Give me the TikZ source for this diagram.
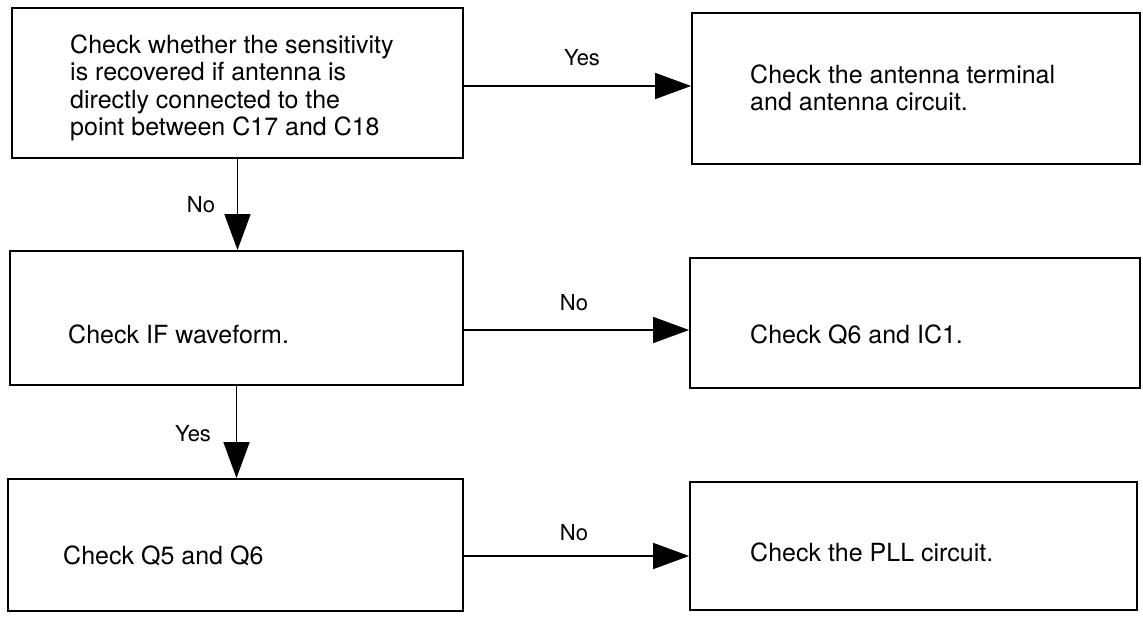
\documentclass[tikz,border=0pt]{standalone}
\usepackage{fontspec}
\setmainfont{TeX Gyre Heros}
\usetikzlibrary{arrows.meta,calc}
\begin{document}
\begin{tikzpicture}[x=1pt,y=-1pt,
  box/.style={draw=black,line width=1.8pt,rectangle,inner sep=0pt},
  txt/.style={anchor=west,align=left,inner sep=0pt,font=\fontsize{25}{27.5}\selectfont},
  lbl/.style={inner sep=0pt,font=\fontsize{22}{24}\selectfont},
  arr/.style={line width=1.6pt,-{Triangle[length=36pt,width=26pt]}}]
\useasboundingbox[fill=white] (0,0) rectangle (1143,617);
% boxes
\node[box,minimum width=451pt,minimum height=150pt] (b1) at (237.5,83) {};
\node[box,minimum width=448pt,minimum height=151pt] (b2) at (916,88.5) {};
\node[box,minimum width=453pt,minimum height=134pt] (b3) at (236.5,318) {};
\node[box,minimum width=450pt,minimum height=130pt] (b4) at (915,323) {};
\node[box,minimum width=455pt,minimum height=132pt] (b5) at (235.5,545) {};
\node[box,minimum width=447pt,minimum height=128pt] (b6) at (913.5,546) {};
% texts
\node[txt] (t1) at (70,88) {Check whether the sensitivity\\is recovered if antenna is\\directly connected to the\\point between C17 and C18};
\node[txt] (t2) at (750,88) {Check the antenna terminal\\and antenna circuit.};
\node[txt] (t3) at (68,334) {Check IF waveform.};
\node[txt] (t4) at (750,335) {Check Q6 and IC1.};
\node[txt] (t5) at (63,556) {Check Q5 and Q6};
\node[txt] (t6) at (750,552) {Check the PLL circuit.};
% connectors
\coordinate (y1) at (0,86);
\coordinate (y2) at (0,330);
\coordinate (y3) at (0,556);
\draw[arr] (b1.east |- y1) -- (b2.west |- y1);
\draw[arr] (b3.east |- y2) -- (b4.west |- y2);
\draw[arr] (b5.east |- y3) -- (b6.west |- y3);
\draw[arr] (b1.south) -- (b1.south |- b3.north);
\draw[arr] (b3.south) -- (b3.south |- b5.north);
% labels
\node[lbl] (l1) at (582,58) {Yes};
\node[lbl] (l2) at (574,303) {No};
\node[lbl] (l3) at (574,533) {No};
\node[lbl] (l4) at (201,205) {No};
\node[lbl] (l5) at (193,434) {Yes};
\end{tikzpicture}
\end{document}
